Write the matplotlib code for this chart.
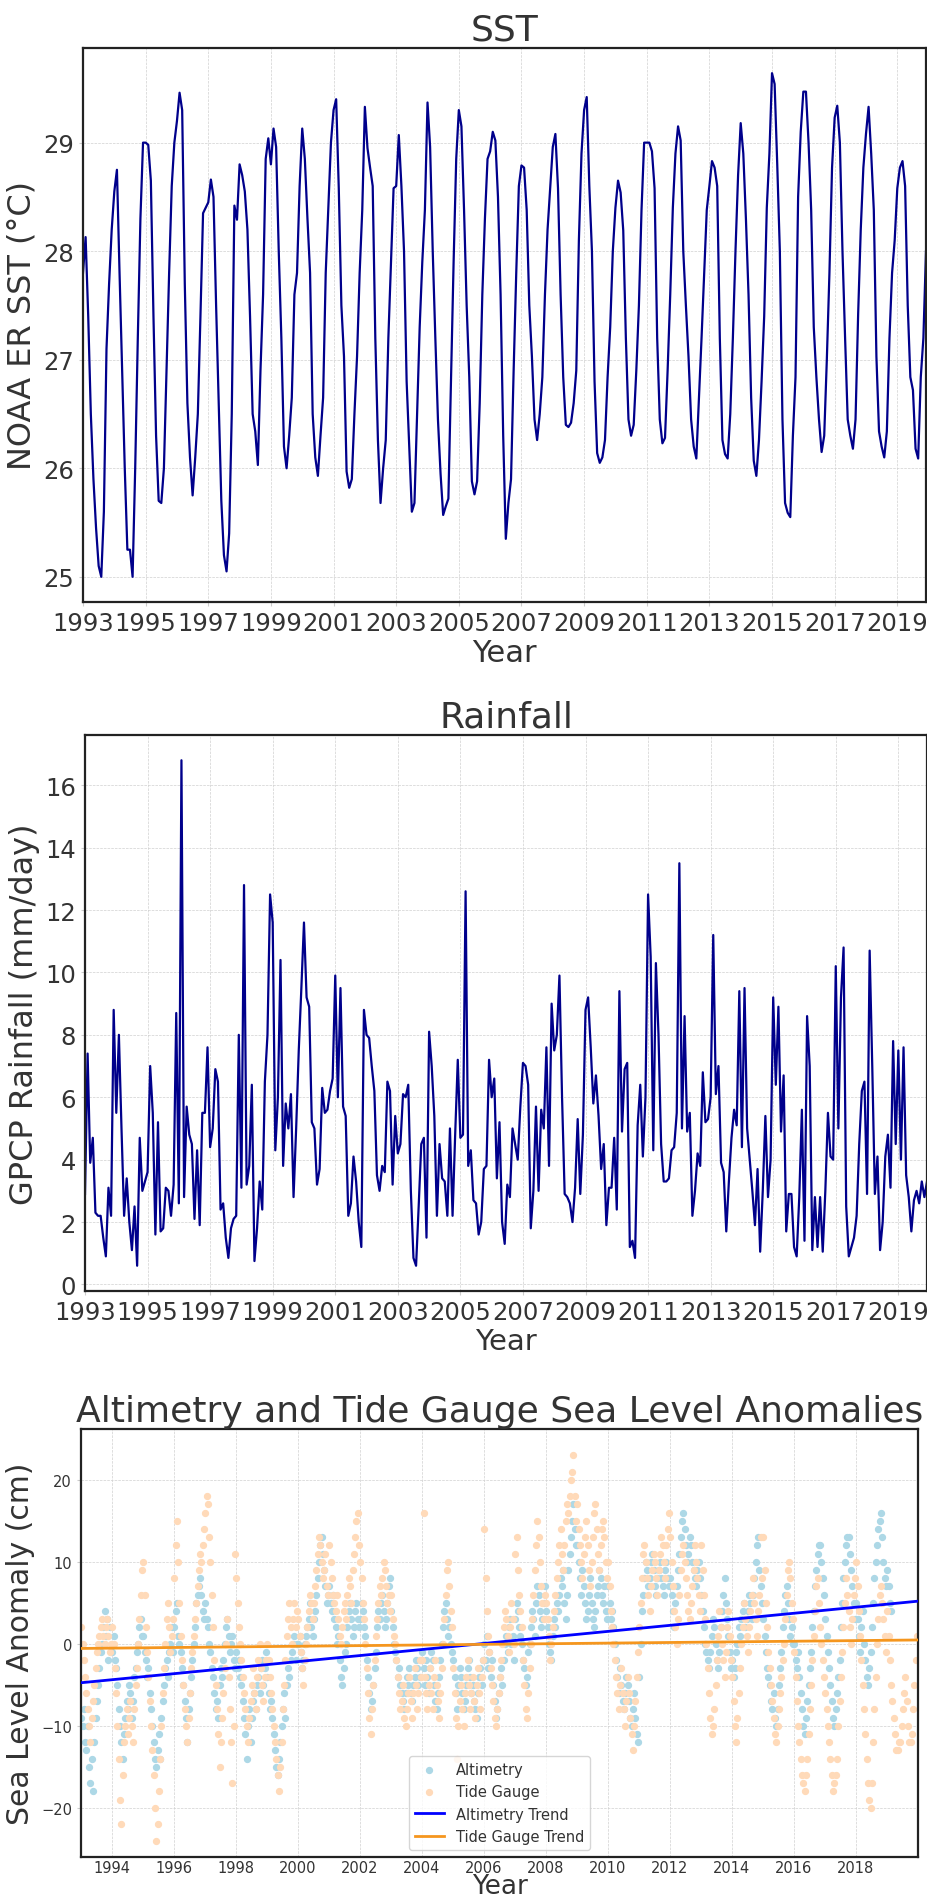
import numpy as np
import matplotlib
import matplotlib.pyplot as plt

matplotlib.use('Agg')

plt.rcParams['font.family'] = ['DejaVu Sans']
plt.rcParams['text.color'] = '#333333'
plt.rcParams['axes.labelcolor'] = '#333333'
plt.rcParams['xtick.color'] = '#333333'
plt.rcParams['ytick.color'] = '#333333'

# 月平均海表温度 (1993-01 ~ 2019-12)
sst = [
    27.8, 28.13, 27.4, 26.5, 25.9, 25.45, 25.1, 25.0, 25.6, 27.1, 27.7, 28.2,
    28.55, 28.75, 27.8, 26.9, 26.0, 25.25, 25.25, 25.0, 26.0, 27.2, 28.3, 29.0,
    29.0, 28.98, 28.65, 27.4, 26.3, 25.7, 25.68, 26.0, 26.9, 27.8, 28.6, 29.0,
    29.2, 29.46, 29.3, 27.7, 26.6, 26.1, 25.75, 26.1, 26.5, 27.4, 28.35, 28.4,
    28.45, 28.66, 28.5, 27.5, 26.6, 25.7, 25.2, 25.05, 25.4, 26.5, 28.42, 28.29,
    28.8, 28.7, 28.55, 28.2, 27.4, 26.5, 26.34, 26.03, 26.9, 27.6, 28.85, 29.04,
    28.8, 29.13, 28.96, 28.0, 27.2, 26.2, 26.0, 26.3, 26.65, 27.6, 27.8, 28.6,
    29.13, 28.85, 28.3, 27.8, 26.5, 26.1, 25.93, 26.3, 26.65, 27.8, 28.4, 29.0,
    29.3, 29.4, 28.58, 27.5, 27.03, 25.97, 25.82, 25.9, 26.5, 27.03, 27.8, 28.38,
    29.33, 28.95, 28.77, 28.6, 27.2, 26.26, 25.68, 26.0, 26.26, 27.2, 27.9, 28.58,
    28.6, 29.07, 28.6, 28.0, 26.8, 26.2, 25.6, 25.68, 26.5, 27.3, 27.9, 28.38,
    29.37, 28.96, 28.0, 27.2, 26.45, 25.95, 25.57, 25.65, 25.72, 26.8, 27.9, 28.85,
    29.3, 29.15, 28.38, 27.5, 26.84, 25.88, 25.76, 25.88, 26.6, 27.6, 28.3, 28.85,
    28.92, 29.1, 29.02, 28.5, 27.6, 26.3, 25.35, 25.68, 25.9, 26.9, 27.8, 28.6,
    28.79, 28.77, 28.38, 27.5, 27.03, 26.45, 26.26, 26.5, 26.84, 27.6, 28.2, 28.58,
    28.96, 29.08, 28.58, 27.6, 26.84, 26.4, 26.38, 26.42, 26.6, 26.9, 28.1, 28.9,
    29.3, 29.42, 28.6, 28.0, 26.8, 26.14, 26.05, 26.1, 26.26, 26.84, 27.3, 28.0,
    28.4, 28.65, 28.54, 28.19, 27.2, 26.45, 26.3, 26.4, 26.9, 27.5, 28.38, 29.0,
    29.0, 29.0, 28.92, 28.58, 27.2, 26.45, 26.23, 26.28, 26.9, 27.6, 28.4, 28.9,
    29.15, 29.02, 28.0, 27.5, 27.03, 26.45, 26.2, 26.09, 26.65, 27.2, 27.8, 28.38,
    28.6, 28.83, 28.77, 28.6, 27.2, 26.26, 26.13, 26.09, 26.5, 27.2, 28.0, 28.7,
    29.18, 28.9, 28.3, 27.6, 26.65, 26.07, 25.93, 26.26, 26.8, 27.4, 28.4, 28.9,
    29.64, 29.54, 28.8, 28.0, 26.45, 25.68, 25.59, 25.55, 26.3, 26.84, 28.5, 29.1,
    29.47, 29.47, 29.0, 28.38, 27.3, 26.84, 26.45, 26.15, 26.3, 27.0, 27.8, 28.77,
    29.23, 29.34, 29.0, 28.0, 27.2, 26.45, 26.3, 26.18, 26.45, 27.42, 28.2, 28.77,
    29.08, 29.33, 28.9, 28.38, 27.03, 26.34, 26.2, 26.1, 26.34, 27.2, 27.8, 28.1,
    28.58, 28.77, 28.83, 28.6, 27.5, 26.84, 26.72, 26.18, 26.09, 26.84, 27.2, 28.0,
]

# 月平均降雨量 mm/day
rain = [
    2.9, 7.4, 3.9, 4.7, 2.3, 2.2, 2.2, 1.5, 0.9, 3.1, 2.2, 8.8,
    5.5, 8.0, 5.0, 2.2, 3.4, 2.0, 1.1, 2.5, 0.6, 4.7, 3.0, 3.3,
    3.6, 7.0, 5.5, 1.6, 5.2, 1.7, 1.8, 3.1, 3.0, 2.2, 3.2, 8.7,
    2.6, 16.8, 2.8, 5.7, 4.8, 4.5, 2.1, 4.3, 1.9, 5.5, 5.5, 7.6,
    4.4, 5.0, 6.9, 6.5, 2.4, 2.6, 1.5, 0.85, 1.8, 2.1, 2.2, 8.0,
    3.1, 12.8, 3.2, 3.8, 6.4, 0.75, 1.8, 3.3, 2.4, 6.5, 8.0, 12.5,
    11.6, 4.3, 6.0, 10.4, 3.8, 5.8, 5.0, 6.1, 2.8, 5.0, 7.5, 9.5,
    11.6, 9.2, 8.9, 5.2, 5.0, 3.2, 3.7, 6.3, 5.5, 5.6, 6.2, 6.6,
    9.9, 6.0, 9.5, 5.7, 5.4, 2.2, 2.6, 4.1, 3.3, 2.0, 1.2, 8.8,
    8.0, 7.9, 7.0, 6.2, 3.5, 3.0, 3.8, 3.6, 6.5, 6.2, 3.2, 5.4,
    4.2, 4.5, 6.1, 6.0, 6.4, 3.0, 0.85, 0.6, 2.5, 4.5, 4.7, 1.5,
    8.1, 7.0, 5.4, 2.2, 4.5, 3.4, 3.3, 2.2, 5.0, 2.2, 4.8, 7.2,
    4.7, 4.8, 12.6, 3.8, 4.3, 2.7, 2.6, 1.6, 2.0, 3.7, 3.8, 7.2,
    6.0, 6.6, 3.4, 5.2, 2.0, 1.3, 3.2, 2.8, 5.0, 4.5, 4.0, 5.7,
    7.1, 7.0, 6.4, 1.8, 3.0, 5.7, 3.0, 5.6, 5.0, 7.6, 3.8, 9.0,
    7.5, 8.0, 9.9, 6.0, 2.9, 2.8, 2.6, 2.0, 3.1, 5.3, 2.9, 4.8,
    8.8, 9.2, 7.6, 5.8, 6.7, 5.4, 3.7, 4.5, 1.9, 3.1, 3.1, 4.7,
    2.4, 9.4, 4.9, 6.9, 7.1, 1.2, 1.4, 0.85, 5.1, 6.4, 4.1, 6.0,
    12.5, 10.5, 4.3, 10.3, 8.0, 4.5, 3.3, 3.3, 3.4, 4.3, 4.4, 5.5,
    13.5, 5.0, 8.6, 4.9, 5.5, 2.2, 3.0, 4.2, 3.8, 6.8, 5.2, 5.3,
    6.0, 11.2, 6.1, 7.0, 3.9, 3.6, 1.7, 3.3, 4.7, 5.6, 5.1, 9.4,
    4.4, 9.5, 5.0, 4.0, 3.0, 1.9, 3.7, 1.05, 3.0, 5.4, 2.8, 4.0,
    9.2, 6.4, 8.9, 4.9, 6.7, 1.7, 2.9, 2.9, 1.2, 0.9, 2.8, 5.6,
    1.4, 8.6, 7.0, 1.1, 2.8, 1.2, 2.8, 1.05, 3.0, 5.5, 4.1, 4.0,
    10.2, 5.0, 9.2, 10.8, 2.5, 0.9, 1.2, 1.5, 2.2, 4.5, 6.2, 6.5,
    2.9, 10.7, 7.0, 2.9, 4.1, 1.1, 2.0, 4.1, 4.8, 3.1, 7.8, 4.5,
    7.5, 4.0, 7.6, 3.5, 2.8, 1.7, 2.7, 3.0, 2.6, 3.3, 2.8, 3.3,
]

# 卫星测高海平面异常 cm (每半月, 1993 ~ 2019年初)
alt_sla = [
    -9, -10, -8, -12, -13, -10, -15, -17, -14, -18, -12, -9, -7, -5, -3, -1, 0, 2, 4, 1, 3, -2, 2, -1,
    -1, 1, -2, -3, -5, -8, -10, -12, -14, -11, -9, -7, -8, -5, -6, -9, -7, -4, -3, -1, 0, 2, 3, 1,
    1, -1, -2, -4, -3, -6, -8, -10, -12, -14, -15, -13, -11, -14, -9, -7, -5, -3, -2, -4, -1, 0, 2, -1,
    2, 4, 5, 1, 0, -1, -3, -5, -7, -9, -12, -8, -6, -4, -2, 0, 2, 5, 6, 7, 8, 6, 4, 3,
    5, 3, 2, 0, -1, -3, -4, -6, -8, -7, -9, -5, -3, -4, -2, 0, 2, 3, 1, -1, 0, 1, -2, -3,
    -1, -3, -2, -4, -5, -7, -9, -11, -14, -10, -8, -12, -9, -7, -6, -8, -5, -4, -6, -3, -2, -5, -3, -1,
    -4, -6, -8, -7, -9, -11, -13, -15, -16, -14, -12, -10, -8, -6, -9, -5, -3, -4, -2, -1, 0, 1, -2, 0,
    0, 1, -1, -3, -2, 0, 1, 2, 3, 5, 2, 1, 3, 4, 6, 8, 10, 12, 13, 11, 9, 7, 5, 6,
    7, 5, 4, 6, 3, 2, 0, 1, -2, -4, -5, -3, -1, 0, 2, 4, 5, 3, 1, 2, 4, 5, 3, 2,
    3, 5, 4, 2, 1, -2, -4, -6, -8, -7, -5, -3, -1, 2, 4, 3, 5, 6, 4, 2, 3, 5, 7, 8,
    4, 2, 0, -1, -2, -4, -3, -5, -6, -7, -8, -6, -4, -5, -3, -6, -7, -5, -4, -2, -3, -5, -4, -2,
    -1, -3, -5, -2, -4, -6, -3, -1, -2, -5, -7, -8, -6, -4, -2, 0, 2, 4, 5, 3, 1, 2, 0, -1,
    -2, -4, -6, -8, -5, -3, -4, -6, -8, -7, -5, -3, -2, -4, -6, -5, -7, -8, -9, -6, -4, -3, -5, -2,
    0, -2, 1, -3, -1, -4, -2, -5, -7, -9, -8, -6, -4, -3, -5, -2, 0, 1, -1, 2, 3, 0, 1, -2,
    3, 5, 4, 2, 1, 0, -2, -3, -5, -4, -1, 0, 2, 4, 3, 1, 5, 7, 6, 4, 2, 3, 5, 7,
    4, 2, 0, -1, -2, 1, 3, 2, 5, 4, 6, 8, 7, 9, 5, 3, 6, 9, 11, 13, 15, 17, 14, 12,
    12, 10, 8, 6, 9, 7, 5, 3, 4, 6, 8, 5, 3, 2, 4, 6, 7, 9, 8, 6, 5, 7, 4, 3,
    7, 5, 3, 4, 2, 0, -2, -4, -6, -3, -5, -7, -8, -6, -4, -5, -7, -9, -10, -8, -6, -9, -11, -12,
    -4, 0, 4, 6, 8, 10, 9, 7, 8, 10, 11, 9, 7, 6, 8, 9, 10, 8, 7, 6, 9, 10, 8, 7,
    8, 6, 4, 2, 5, 7, 9, 11, 13, 15, 16, 14, 12, 10, 11, 13, 12, 10, 9, 8, 7, 9, 10, 8,
    6, 4, 2, 0, -1, -2, -3, -1, 1, 3, 2, 0, -2, -3, -1, 2, 4, 6, 8, 5, 3, 1, -1, -3,
    -2, -4, -3, -1, 0, 2, 1, 3, 4, 5, 2, 3, 4, 6, 5, 3, 6, 8, 10, 12, 13, 9, 7, 5,
    3, 1, -1, -3, -4, -5, -7, -8, -6, -9, -10, -8, -5, -3, -1, 2, 4, 6, 7, 5, 3, 1, 2, 0,
    0, -2, -3, -1, -4, -6, -8, -10, -11, -9, -7, -5, -3, -1, 2, 4, 7, 9, 11, 12, 12, 10, 8, 6,
    3, 1, -1, -3, -5, -7, -9, -10, -8, -6, -4, -2, 2, 5, 8, 10, 12, 13, 13, 11, 9, 7, 5, 3,
    5, 3, 1, -1, 2, 4, 0, -2, -4, -5, -3, -1, 2, 5, 8, 10, 12, 14, 15, 16, 13, 10, 8, 7,
    9, 7, 5, 4,
]

# 验潮站海平面异常 cm (每半月, 1993 ~ 2019)
tg_sla = [
    2, 0, -2, -4, -6, -8, -10, -12, -9, -7, -5, -3, -1, 0, 1, 2, 3, 1, 0, 2, 3, 1, -1, 0,
    2, 0, -3, -6, -10, -14, -19, -22, -16, -12, -10, -8, -11, -9, -7, -10, -12, -8, -5, -3, 0, 3, 6, 9,
    10, 6, 2, -1, -4, -7, -10, -13, -16, -20, -24, -22, -18, -14, -10, -6, -3, 0, 3, 5, 2, -1, 1, 3,
    8, 12, 15, 10, 5, 1, -2, -5, -8, -10, -12, -9, -6, -3, -1, 1, 3, 5, 7, 9, 11, 10, 12, 14,
    16, 18, 17, 13, 10, 6, 2, -2, -5, -8, -11, -15, -12, -9, -6, -3, 0, 3, -4, -8, -12, -17, -10, 11,
    8, 5, 2, 0, -2, -4, -6, -8, -10, -12, -9, -7, -5, -3, -6, -8, -4, -2, 0, -3, -5, -7, -4, -2,
    0, -2, -4, -6, -8, -10, -12, -14, -16, -18, -15, -12, -8, -5, -2, 1, 3, 5, 2, 0, 3, 5, 2, 4,
    3, 1, -1, -3, -5, -2, 0, 2, 4, 6, 5, 3, 5, 7, 9, 11, 13, 12, 10, 8, 9, 11, 7, 6,
    12, 10, 8, 6, 5, 4, 6, 3, 1, 0, 2, 4, 5, 3, 6, 8, 7, 5, 9, 11, 13, 15, 16, 12,
    10, 8, 5, 3, 0, -3, -6, -9, -11, -8, -5, -2, 1, 3, 5, 7, 6, 8, 10, 9, 7, 5, 6, 4,
    6, 3, 1, 0, -2, -4, -6, -8, -7, -5, -9, -10, -8, -6, -4, -7, -9, -6, -3, -5, -8, -6, -2, -4,
    -2, 16, -4, -6, -8, -5, -3, -6, -8, -4, -2, -5, -7, -9, -6, -3, 0, 3, 6, 9, 10, 7, 4, 2,
    -3, -6, -9, -14, -10, -7, -5, -8, -10, -6, -4, -2, -5, -8, -6, -4, -7, -9, -5, -3, -6, -8, -4, -2,
    14, 8, 4, 1, -1, -3, -5, -7, -9, -10, -8, -6, -4, -2, 0, 2, 4, 3, 1, -1, 2, 5, 3, 0,
    11, 13, 9, 6, 4, 2, -2, -5, -8, -9, -6, -3, 0, 3, 6, 9, 12, 15, 13, 10, 7, 5, 3, 6,
    5, 3, 1, -2, 0, 2, 4, 6, 8, 10, 12, 14, 11, 9, 12, 15, 17, 16, 18, 20, 21, 23, 18, 15,
    17, 14, 12, 10, 8, 11, 13, 15, 12, 9, 7, 10, 13, 16, 17, 14, 11, 9, 12, 14, 15, 13, 10, 8,
    10, 7, 4, 2, 0, -2, -4, -6, -8, -5, -3, -6, -8, -10, -7, -4, -6, -9, -11, -13, -10, -7, -4, -1,
    2, 5, 8, 11, 12, 10, 8, 6, 4, 7, 9, 11, 10, 8, 6, 9, 11, 13, 12, 10, 8, 12, 14, 16,
    13, 10, 7, 4, 2, 0, 3, 6, 9, 11, 12, 10, 8, 6, 4, 3, 5, 7, 9, 12, 10, 8, 6, 4,
    12, 9, 6, 3, 0, -3, -6, -9, -11, -10, -8, -5, -2, 1, 4, 2, 0, -2, -4, -1, 2, 4, 1, -2,
    -4, -7, -10, -12, -9, -6, -3, 0, 2, 5, 3, 1, -1, 2, 4, 6, 8, 5, 3, 1, 4, 6, 13, 8,
    13, 9, 5, 2, -1, -3, -5, -7, -9, -11, -12, -10, -8, -6, -4, -2, 0, 3, 6, 9, 10, 8, 5, 3,
    -1, -4, -7, -10, -12, -14, -16, -17, -18, -16, -14, -11, -8, -5, -2, 1, 4, 7, 8, 5, 2, 0, -2, -4,
    -6, -8, -10, -12, -14, -16, -18, -17, -16, -14, -10, -7, -4, -1, 2, 5, 8, 6, 4, 2, 0, 3, 6, 8,
    10, 7, 4, 1, -2, -5, -8, -11, -14, -17, -19, -20, -17, -12, -8, -4, 0, 3, 6, 7, 5, 3, 1, -1,
    4, 1, -2, -5, -7, -9, -11, -13, -13, -12, -12, -10, -8, -6, -4, -7, -10, -12, -12, -11, -8, -5, -2, 1,
]

year_ticks_1 = list(range(1993, 2020, 2))
year_ticks_3 = list(range(1994, 2019, 2))

t_month = 1993 + np.arange(len(sst)) / 12.0
t_alt = 1993 + (np.arange(len(alt_sla)) + 0.25) / 24.0
t_tg = 1993 + (np.arange(len(tg_sla)) + 0.25) / 24.0

W, H = 928, 1899
fig = plt.figure(figsize=(W / 100, H / 100), dpi=100)


def box(l, t, r, b):
    return [l / W, 1 - b / H, (r - l) / W, (b - t) / H]


def style(ax):
    ax.grid(True, linestyle='--', linewidth=0.5, color='#d0d0d0')
    for s in ax.spines.values():
        s.set_linewidth(1.6)
        s.set_color('#222222')
    ax.tick_params(length=3, color='#cccccc')


# SST
ax1 = fig.add_axes(box(83, 49, 926, 603))
ax1.plot(t_month, sst, color='#00008B', linewidth=1.6)
ax1.set_xlim(t_month[0], t_month[-1])
ax1.set_xticks(year_ticks_1)
ax1.set_yticks([25, 26, 27, 28, 29])
ax1.tick_params(labelsize=17.5)
ax1.set_title('SST', fontsize=26)
ax1.set_xlabel('Year', fontsize=22, labelpad=2)
ax1.set_ylabel('NOAA ER SST (°C)', fontsize=23)
style(ax1)

# Rainfall
ax2 = fig.add_axes(box(85, 736, 927, 1292))
ax2.plot(t_month, rain, color='#00008B', linewidth=1.6)
ax2.set_xlim(t_month[0], t_month[-1])
ax2.set_xticks(year_ticks_1)
ax2.set_yticks(range(0, 17, 2))
ax2.tick_params(labelsize=17.5)
ax2.set_title('Rainfall', fontsize=26)
ax2.set_xlabel('Year', fontsize=21, labelpad=2)
ax2.set_ylabel('GPCP Rainfall (mm/day)', fontsize=23)
style(ax2)

# 海平面异常
ax3 = fig.add_axes(box(81, 1430, 918, 1858))
ax3.scatter(t_alt, alt_sla, s=18, color='lightblue', label='Altimetry', zorder=2)
ax3.scatter(t_tg, tg_sla, s=18, color='peachpuff', label='Tide Gauge', zorder=2)
p_alt = np.polyfit(t_alt, alt_sla, 1)
p_tg = np.polyfit(t_tg, tg_sla, 1)
xx = np.array([1993.0, 2020.0])
ax3.plot(xx, np.polyval(p_alt, xx), color='blue', linewidth=2, label='Altimetry Trend', zorder=3)
ax3.plot(xx, np.polyval(p_tg, xx), color='#f5961e', linewidth=2, label='Tide Gauge Trend', zorder=3)
ax3.set_xlim(1993.0, 2020.0)
ax3.set_ylim(-26, 26.2)
ax3.set_xticks(year_ticks_3)
ax3.set_yticks([-20, -10, 0, 10, 20])
style(ax3)
ax3.tick_params(labelsize=10.5)
ax3.tick_params(axis='x', length=0, pad=2)
ax3.set_title('Altimetry and Tide Gauge Sea Level Anomalies', fontsize=26)
ax3.set_xlabel('Year', fontsize=19, labelpad=-1)
ax3.set_ylabel('Sea Level Anomaly (cm)', fontsize=21.5)
ax3.legend(loc='lower center', fontsize=10.5, frameon=True)

fig.savefig('out.png', dpi=100)
